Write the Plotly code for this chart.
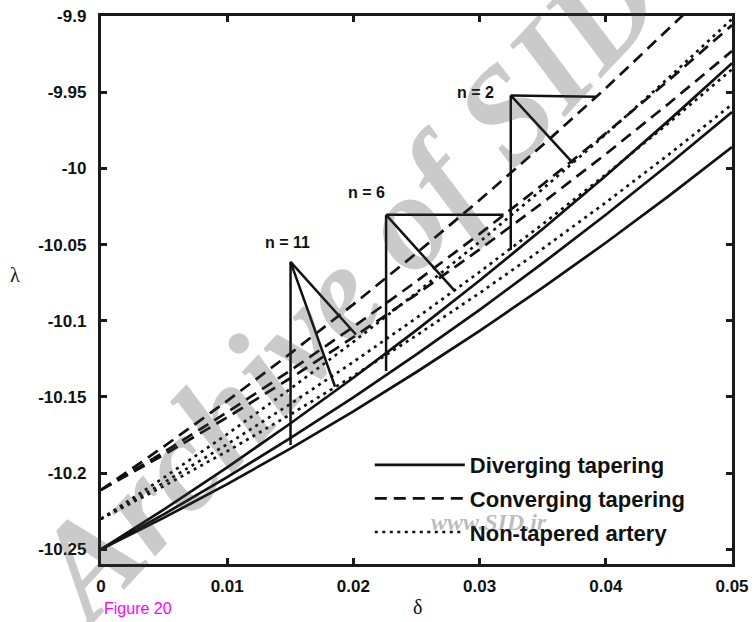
import plotly.graph_objects as go

# stenosis height delta
delta = [0.0, 0.005, 0.01, 0.015, 0.02, 0.025, 0.03, 0.035, 0.04, 0.045, 0.05]

# lambda for diverging tapering (n = 2, 6, 11)
div_n2 = [-10.25, -10.2237, -10.1962, -10.1674, -10.1374, -10.1061, -10.0736, -10.0398, -10.0048, -9.9685, -9.931]
div_n6 = [-10.25, -10.2269, -10.2026, -10.1770, -10.1502, -10.1221, -10.0928, -10.0622, -10.0304, -9.9973, -9.963]
div_n11 = [-10.25, -10.2292, -10.2072, -10.1839, -10.1594, -10.1336, -10.1066, -10.0783, -10.0488, -10.0180, -9.986]

# lambda for converging tapering (n = 2, 6, 11)
con_n2 = [-10.211, -10.1824, -10.1526, -10.1215, -10.0892, -10.0556, -10.0208, -9.9847, -9.9474, -9.9088, -9.869]
con_n6 = [-10.211, -10.1861, -10.1600, -10.1326, -10.1040, -10.0741, -10.0430, -10.0106, -9.9770, -9.9421, -9.906]
con_n11 = [-10.211, -10.1878, -10.1634, -10.1377, -10.1108, -10.0826, -10.0532, -10.0225, -9.9906, -9.9574, -9.923]

# lambda for the non-tapered artery (n = 2, 6, 11)
non_n2 = [-10.23, -10.2028, -10.1744, -10.1447, -10.1138, -10.0816, -10.0482, -10.0135, -9.9776, -9.9404, -9.902]
non_n6 = [-10.23, -10.2061, -10.1810, -10.1546, -10.1270, -10.0981, -10.0680, -10.0366, -10.0040, -9.9701, -9.935]
non_n11 = [-10.23, -10.2084, -10.1856, -10.1615, -10.1362, -10.1096, -10.0818, -10.0527, -10.0224, -9.9908, -9.958]

# pointer lines: label anchor followed by the points on the curves
n11_anchor = (0.01502, -10.0613)
n11_targets = [(0.01502, -10.1815), (0.01855, -10.1433), (0.0202, -10.109)]
n6_anchor = (0.02259, -10.0305)
n6_targets = [(0.02259, -10.133), (0.0319, -10.0305), (0.02807, -10.0807)]
n2_anchor = (0.03247, -9.9521)
n2_targets = [(0.03247, -10.0535), (0.03923, -9.953), (0.0374, -9.9965)]

n_labels = ["n = 2", "n = 6", "n = 11"]
n_label_pos = [(0.02968, -9.9502), (0.02103, -10.0161), (0.01478, -10.0484)]

x_ticks = [0, 0.01, 0.02, 0.03, 0.04, 0.05]
x_ticktext = ["0", "0.01", "0.02", "0.03", "0.04", "0.05"]
y_ticks = [-10.25, -10.2, -10.15, -10.1, -10.05, -10.0, -9.95, -9.9]
y_ticktext = ["-10.25", "-10.2", "-10.15", "-10.1", "-10.05", "-10", "-9.95", "-9.9"]

LW = 2.7
DASH = "12px,7px"
DOT = "3px,4.5px"
INK = "#111111"

fig = go.Figure()

groups = [
    ("Diverging tapering", [div_n2, div_n6, div_n11], "solid"),
    ("Converging tapering", [con_n2, con_n6, con_n11], DASH),
    ("Non-tapered artery", [non_n2, non_n6, non_n11], DOT),
]
for name, curves, dash in groups:
    for i, ys in enumerate(curves):
        fig.add_trace(go.Scatter(
            x=delta, y=ys, mode="lines", name=name,
            legendgroup=name, showlegend=(i == 0),
            line=dict(color=INK, width=LW, dash=dash),
        ))

for anchor, targets in [(n11_anchor, n11_targets), (n6_anchor, n6_targets), (n2_anchor, n2_targets)]:
    px, py = [], []
    for tx, ty in targets:
        px += [anchor[0], tx, None]
        py += [anchor[1], ty, None]
    fig.add_trace(go.Scatter(
        x=px, y=py, mode="lines", showlegend=False, hoverinfo="skip",
        line=dict(color=INK, width=2.5),
    ))

annotations = []
for text, (lx, ly) in zip(n_labels, n_label_pos):
    annotations.append(dict(
        x=lx, y=ly, xref="x", yref="y", text=text, showarrow=False,
        font=dict(family="Liberation Sans", size=16, color=INK, weight="bold"),
    ))

annotations += [
    dict(x=-0.148, y=0.528, xref="paper", yref="paper", text="λ", showarrow=False,
         yanchor="middle", font=dict(family="Liberation Serif", size=20, color=INK)),
    dict(x=0.5016, y=-0.079, xref="paper", yref="paper", text="δ", showarrow=False,
         yanchor="middle", font=dict(family="Liberation Serif", size=20, color=INK)),
    dict(x=0.0016, y=-0.081, xref="paper", yref="paper", text="Figure 20", showarrow=False,
         xanchor="left", yanchor="middle",
         font=dict(family="Liberation Sans", size=16, color="#ff00ff")),
    # archive watermark
    dict(x=0.384, y=0.506, xref="paper", yref="paper", text="Archive of SID", showarrow=False,
         textangle=-47,
         font=dict(family="Liberation Serif", size=136, color="rgba(60,60,60,0.27)",
                   weight="bold", style="italic")),
    dict(x=0.71, y=0.077, xref="paper", yref="paper", text="www.SID.ir", showarrow=False,
         yanchor="middle",
         font=dict(family="Liberation Serif", size=24, color="rgba(60,60,60,0.35)",
                   weight="bold", style="italic")),
]

axis_common = dict(
    showline=True, linecolor="#1a1a1a", linewidth=3.4, mirror="ticks",
    ticks="inside", ticklen=6, tickwidth=2.5, tickcolor="#1a1a1a",
    showgrid=False, zeroline=False,
    tickfont=dict(family="Liberation Sans", size=17, color=INK, weight="bold"),
)

fig.update_layout(
    width=756, height=622,
    margin=dict(l=101, r=19, t=7, b=58),
    paper_bgcolor="white", plot_bgcolor="white",
    xaxis=dict(range=[0, 0.05], tickvals=x_ticks, ticktext=x_ticktext,
               ticklabelstandoff=4, **axis_common),
    yaxis=dict(range=[-10.2596, -9.9], tickvals=y_ticks, ticktext=y_ticktext,
               ticklabelstandoff=8, **axis_common),
    legend=dict(x=0.426, y=0.219, xanchor="left", yanchor="top",
                bgcolor="rgba(0,0,0,0)", itemwidth=90, tracegroupgap=2,
                font=dict(family="Liberation Sans", size=22, color=INK, weight="bold")),
    annotations=annotations,
    showlegend=True,
)

fig.write_html("out.html")
